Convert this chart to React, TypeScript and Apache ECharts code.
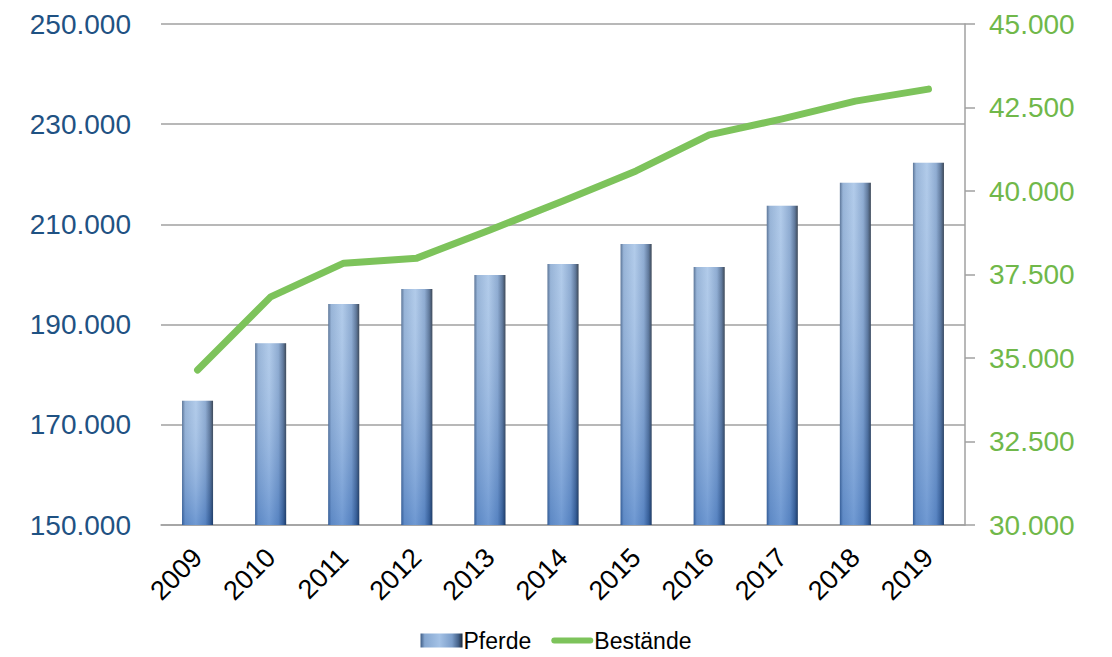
import React, { useEffect, useRef } from "react";
import * as echarts from "echarts";

const years = ["2009", "2010", "2011", "2012", "2013", "2014", "2015", "2016", "2017", "2018", "2019"];
const pferde = [174800, 186300, 194100, 197100, 199900, 202100, 206100, 201500, 213700, 218300, 222300];
const bestaende = [34640, 36830, 37840, 37990, 38830, 39700, 40600, 41680, 42160, 42690, 43050];

const fmt = (v: number) => String(Math.round(v)).replace(/\B(?=(\d{3})+(?!\d))/g, ".");

const FONT = "'Liberation Sans', Arial, sans-serif";

export default function App() {
  const ref = useRef<HTMLDivElement>(null);

  useEffect(() => {
    if (!ref.current) return;
    const chart = echarts.init(ref.current, undefined, { renderer: "svg" });

    const barFill = new echarts.graphic.LinearGradient(0, 0, 1, 0, [
      { offset: 0, color: "#3f5d85" },
      { offset: 0.1, color: "#86a7d0" },
      { offset: 0.45, color: "#a4c2e6" },
      { offset: 0.75, color: "#7b9dc9" },
      { offset: 0.9, color: "#45628a" },
      { offset: 1, color: "#1a2738" },
    ]);
    const barShade = new echarts.graphic.LinearGradient(0, 0, 0, 1, [
      { offset: 0, color: "rgba(255,255,255,0.15)" },
      { offset: 1, color: "rgba(30,90,180,0.4)" },
    ]);

    chart.setOption({
      animation: false,
      textStyle: { fontFamily: FONT },
      grid: { left: 161, right: 147, top: 24, bottom: 132, containLabel: false },
      legend: {
        top: 624,
        left: "center",
        itemGap: 20,
        itemWidth: 42,
        itemHeight: 14,
        textStyle: { fontSize: 23, color: "#000", fontFamily: FONT, padding: [0, 0, 0, -4] },
        data: [
          { name: "Pferde", icon: "rect" },
          { name: "Bestände", icon: "path://M3,0 L39,0 A3,3 0 0 1 39,6 L3,6 A3,3 0 0 1 3,0 Z", itemStyle: { color: "#7dc35b" } },
        ],
      },
      xAxis: {
        type: "category",
        data: years,
        axisLine: { show: true, lineStyle: { color: "#a0a0a0", width: 1.5 } },
        axisTick: { show: false },
        axisLabel: { rotate: 45, fontSize: 27, color: "#000", margin: 28, fontFamily: FONT },
      },
      yAxis: [
        {
          type: "value",
          min: 150000,
          max: 250000,
          interval: 20000,
          position: "left",
          axisLine: { show: false },
          axisTick: { show: false },
          splitLine: { show: true, lineStyle: { color: "#a0a0a0", width: 1.5 } },
          axisLabel: { fontSize: 28, color: "#1f5283", margin: 30, formatter: fmt, fontFamily: FONT },
        },
        {
          type: "value",
          min: 30000,
          max: 45000,
          interval: 2500,
          position: "right",
          axisLine: { show: true, lineStyle: { color: "#a0a0a0", width: 1.5 } },
          axisTick: { show: true, inside: false, length: 10, lineStyle: { color: "#a0a0a0", width: 1.5 } },
          splitLine: { show: false },
          axisLabel: { fontSize: 28, color: "#70b84a", margin: 24, formatter: fmt, fontFamily: FONT },
        },
      ],
      series: [
        {
          name: "Pferde",
          type: "bar",
          yAxisIndex: 0,
          barWidth: 31,
          data: pferde,
          itemStyle: { color: barFill },
          z: 2,
        },
        {
          type: "bar",
          yAxisIndex: 0,
          barWidth: 31,
          barGap: "-100%",
          data: pferde,
          itemStyle: { color: barShade },
          silent: true,
          z: 3,
        },
        {
          name: "Bestände",
          type: "line",
          yAxisIndex: 1,
          data: bestaende,
          symbol: "none",
          lineStyle: { color: "#7dc35b", width: 7, cap: "round", join: "round" },
          itemStyle: { color: "#7dc35b" },
          z: 5,
        },
      ],
    });

    return () => chart.dispose();
  }, []);

  return <div ref={ref} style={{ width: 1112, height: 657, position: "absolute", left: 0, top: 0 }} />;
}
